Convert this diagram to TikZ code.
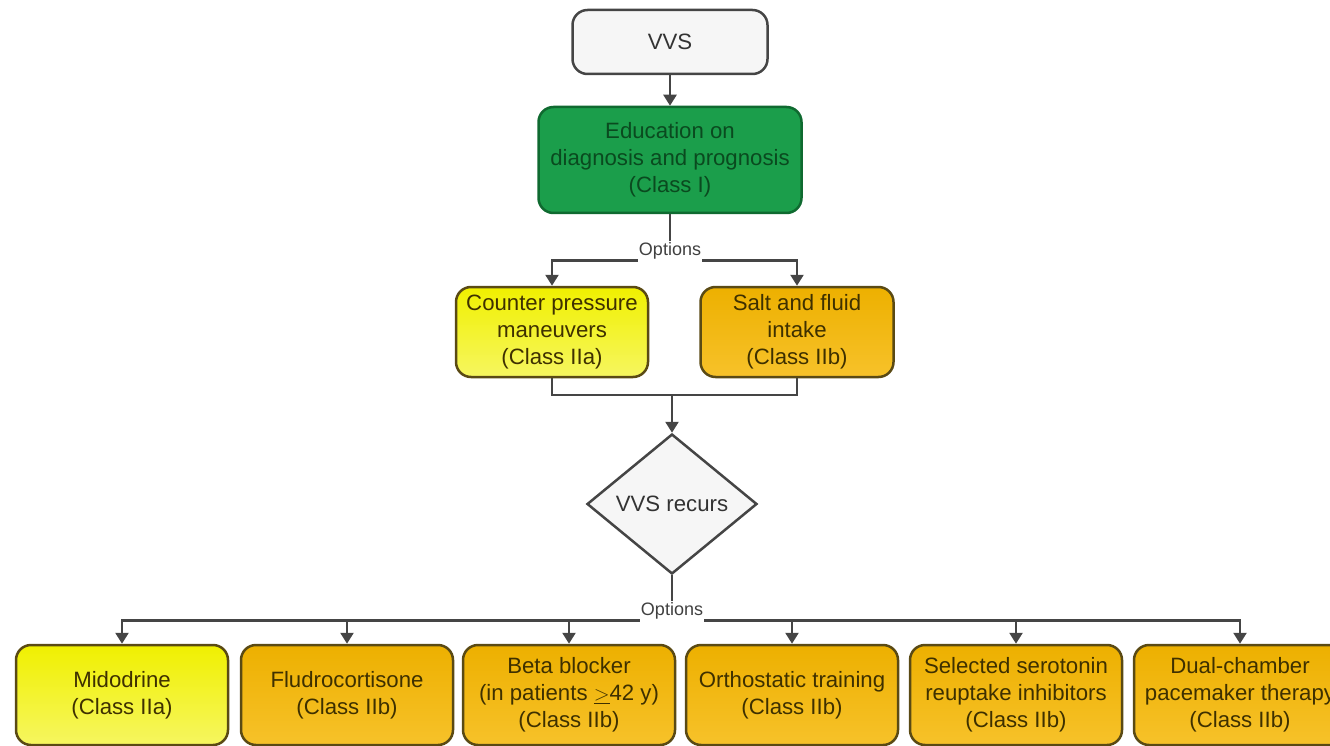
\documentclass[tikz,border=0pt]{standalone}
\usepackage{fontspec}
\setmainfont{Liberation Sans}
\usetikzlibrary{shapes.geometric,arrows.meta}
\definecolor{linec}{HTML}{454545}
\definecolor{grayfill}{HTML}{F6F6F6}
\definecolor{greenfill}{HTML}{1B9E4B}
\definecolor{greenline}{HTML}{0F6A30}
\definecolor{greentext}{HTML}{0A4A1F}
\definecolor{yelA}{HTML}{F0F000}
\definecolor{yelB}{HTML}{F6F660}
\definecolor{oraA}{HTML}{EDB000}
\definecolor{oraB}{HTML}{F7C22A}
\definecolor{boxline}{HTML}{5A4A14}
\definecolor{boxtext}{HTML}{3E3000}
\tikzset{
  base/.style={rounded corners=15pt, line width=2.5pt, align=center, inner sep=2pt,
    font=\fontsize{22.2}{27}\selectfont},
  graybox/.style={base, draw=linec, fill=grayfill, text=black!80},
  greenbox/.style={base, draw=greenline, fill=greenfill, text=greentext},
  yelbox/.style={base, draw=boxline, top color=yelA, bottom color=yelB, text=boxtext},
  orabox/.style={base, draw=boxline, top color=oraA, bottom color=oraB, text=boxtext},
  lbl/.style={font=\fontsize{18}{20}\selectfont, text=black!75, inner sep=1pt},
  conn/.style={draw=linec, line width=2.5pt},
  arr/.style={conn, -{Triangle[width=13pt,length=11pt]}},
}
\begin{document}
\begin{tikzpicture}[x=1pt,y=-1pt]
\useasboundingbox (0,0) rectangle (1330,746);
\node[graybox, minimum width=195pt, minimum height=64pt] (vvs) at (670,42) {VVS};
\node[greenbox, minimum width=263pt, minimum height=106pt] (edu) at (670,160)
  {Education on\\diagnosis and prognosis\\(Class I)};
\node[lbl] (opt1) at (670,251) {Options};
\node[yelbox, minimum width=192pt, minimum height=90pt] (cp) at (552,332)
  {Counter pressure\\maneuvers\\(Class IIa)};
\node[orabox, minimum width=193pt, minimum height=90pt] (salt) at (797,332)
  {Salt and fluid\\intake\\(Class IIb)};
\coordinate (merge) at (672,395);
\node[diamond, draw=linec, line width=2.5pt, fill=grayfill, minimum width=170pt,
  minimum height=140pt, aspect=1.21, inner sep=0pt, text=black!80,
  font=\fontsize{22.2}{27}\selectfont] (rec) at (672,504) {VVS recurs};
\node[lbl] (opt2) at (672,611) {Options};
\foreach \n/\x/\s/\t in {
  m/122/yelbox/{Midodrine\\(Class IIa)},
  f/347/orabox/{Fludrocortisone\\(Class IIb)},
  b/569/orabox/{Beta blocker\\(in patients $\underline{>}$42 y)\\(Class IIb)},
  o/792/orabox/{Orthostatic training\\(Class IIb)},
  s/1016/orabox/{Selected serotonin\\reuptake inhibitors\\(Class IIb)},
  d/1240/orabox/{Dual-chamber\\pacemaker therapy\\(Class IIb)}}
  \node[\s, minimum width=212pt, minimum height=100pt] (\n) at (\x,695) {\t};
\draw[arr] (vvs) -- (edu);
\draw[conn] (edu) -- (opt1.north);
\draw[arr] (opt1.south west) -| (cp.north);
\draw[arr] (opt1.south east) -| (salt.north);
\draw[conn] (cp.south) |- (merge) -| (salt.south);
\draw[arr] (merge) -- (rec.north);
\draw[conn] (rec.south) -- (opt2.north);
\draw[arr] (opt2.south west) -| (m.north);
\draw[arr] (opt2.south west) -| (f.north);
\draw[arr] (opt2.south west) -| (b.north);
\draw[arr] (opt2.south east) -| (o.north);
\draw[arr] (opt2.south east) -| (s.north);
\draw[arr] (opt2.south east) -| (d.north);
\end{tikzpicture}
\end{document}
